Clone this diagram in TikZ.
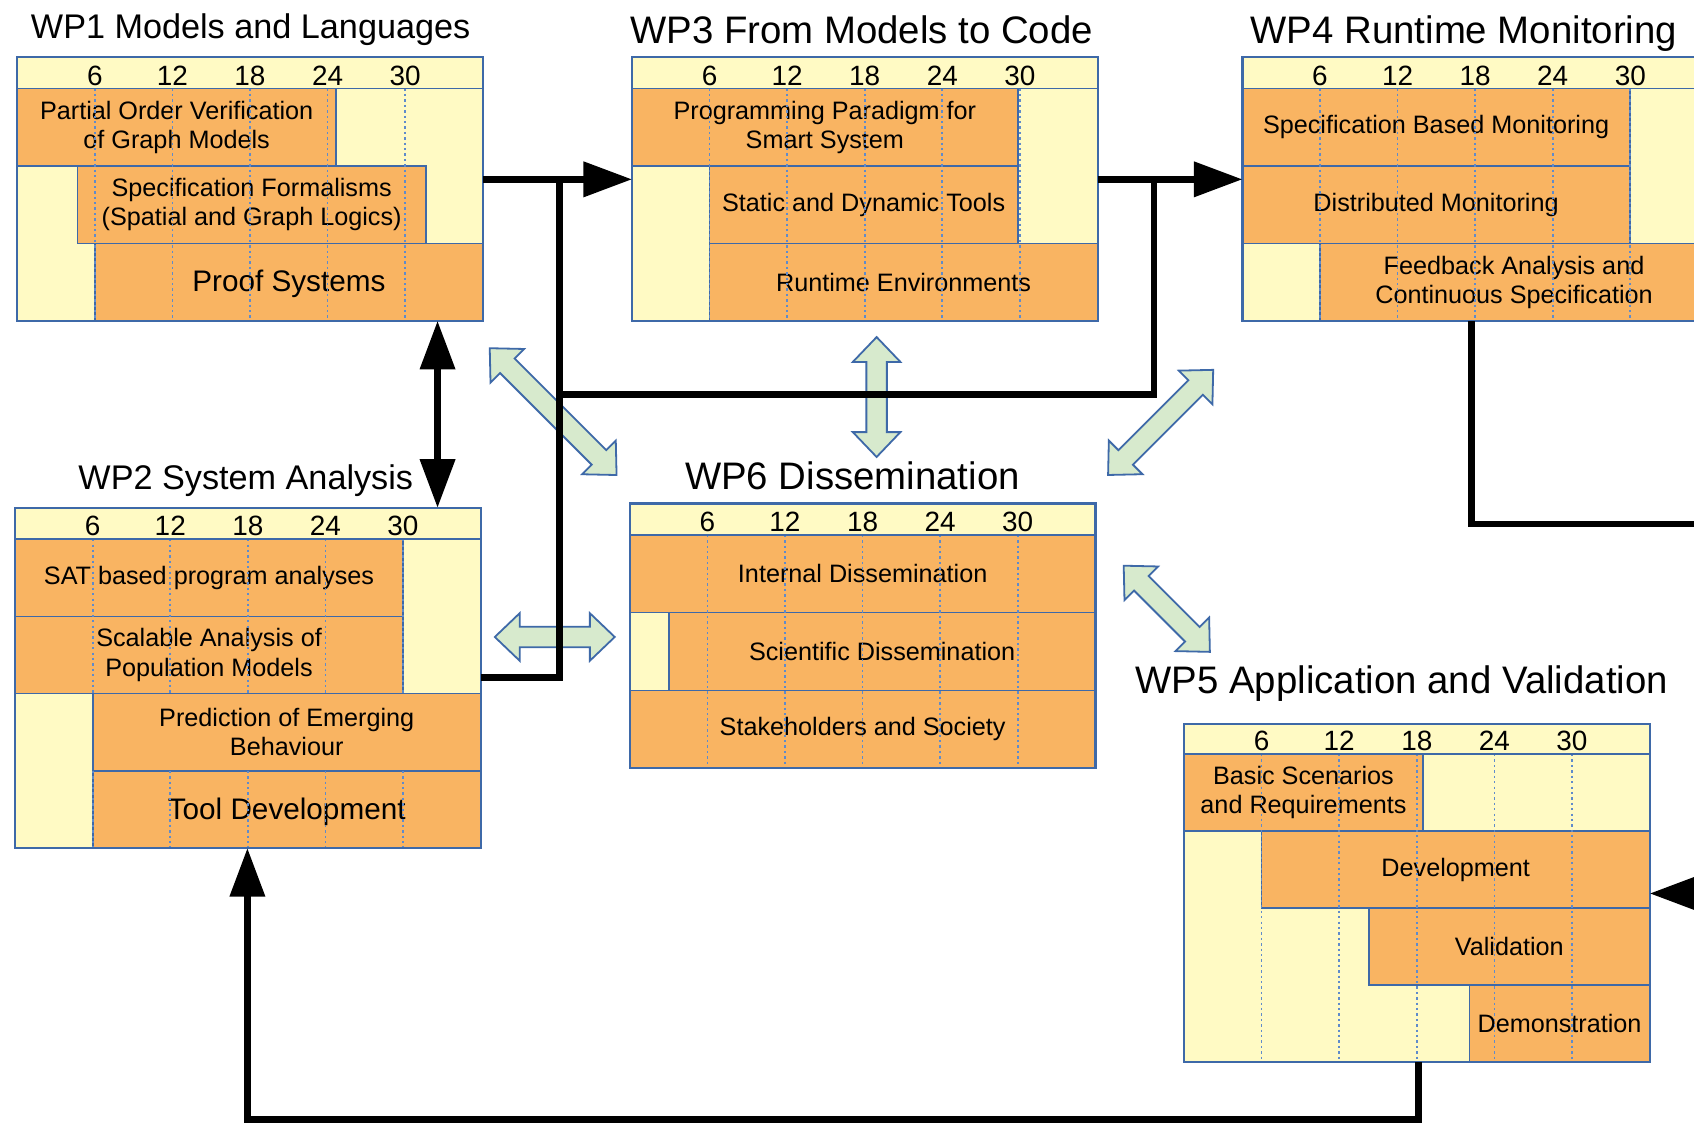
\documentclass[tikz,border=0pt]{standalone}
\usepackage{fontspec}
\setmainfont{Liberation Sans}
\usetikzlibrary{arrows.meta}
\definecolor{wpyellow}{HTML}{FFFAC4}
\definecolor{wporange}{HTML}{F9B462}
\definecolor{wpblue}{HTML}{3E69A8}
\definecolor{wpdot}{HTML}{5F8BCB}
\definecolor{wpgreen}{HTML}{D7EACD}
\newlength\un
\setlength\un{0.6pt}

\tikzset{
  wpbarst/.style={draw=wpblue, line width=0.9pt, fill=wporange, inner sep=0pt,
    outer sep=0pt, align=center, font=\fontsize{14}{16.2}\selectfont},
  wpframest/.style={draw=wpblue, line width=1.2pt, inner sep=0pt, outer sep=0pt},
  wptitle/.style={anchor=base, inner sep=0pt, font=\fontsize{21.3}{24}\selectfont},
  wptitlesmall/.style={wptitle, font=\fontsize{19}{22}\selectfont},
  wpmonth/.style={anchor=base, inner sep=0pt, font=\fontsize{15.5}{17}\selectfont},
  wpgridline/.style={draw=wpdot, line width=0.9pt, dash pattern=on 1.3pt off 1.7pt},
  wpflow/.style={line width=3.6pt, black},
  wpflowto/.style={wpflow, -{Triangle[length=27pt,width=19pt]}},
  wpflowboth/.style={wpflow, {Triangle[length=27pt,width=19pt]}-{Triangle[length=27pt,width=19pt]}},
  wpgarrow/.style={draw=wpblue, fill=wpgreen, line width=1pt, line join=miter},
  wpbig/.style={font=\fontsize{16.5}{18}\selectfont, yshift=-1.2pt}
}

% yellow background of a work package: x0, top, bottom
\newcommand\wpback[3]{\fill[wpyellow] (#1,#2) rectangle (#1+431,#3);}
% one task bar: [options] name, x0, y0, x1, y1, text
\newcommand\wpbar[7][]{%
  \node[wpbarst, minimum width={(#5-#3)*\un}, minimum height={(#6-#4)*\un}]
    (#2) at ({(#3+#5)/2},{(#4+#6)/2}) {};
  \node[inner sep=0pt, align=center, font=\fontsize{14}{16.2}\selectfont, #1]
    (#2txt) at (#2.center) {#7};}
% dotted month lines: x0, from y, to y
\newcommand\wpgrid[3]{\foreach \m in {1,...,5}{\draw[wpgridline] (#1+71.8*\m,#2) -- (#1+71.8*\m,#3);}}
% header line, month numbers and outline: name, x0, top, header bottom, bottom
\newcommand\wptop[5]{%
  \draw[wpblue, line width=1pt] (#2,#4) -- (#2+431,#4);
  \foreach \m/\n in {1/6,2/12,3/18,4/24,5/30}{\node[wpmonth] (#1m\n) at (#2+71.8*\m,#4-3) {\n};}
  \node[wpframest, minimum width={431*\un}, minimum height={(#5-#3)*\un}]
    (#1) at (#2+215.5,{(#3+#5)/2}) {};}
% light green double arrow: centre x, centre y, angle, half length
\newcommand\wpdouble[4]{%
  \begin{scope}[shift={(#1,#2)}, rotate=#3]
    \draw[wpgarrow] (-#4,0) -- (-#4+23,22) -- (-#4+23,9.5) -- (#4-23,9.5) -- (#4-23,22)
      -- (#4,0) -- (#4-23,-22) -- (#4-23,-9.5) -- (-#4+23,-9.5) -- (-#4+23,-22) -- cycle;
  \end{scope}}

\begin{document}
\begin{tikzpicture}[x=0.6pt,y=-0.6pt]
\useasboundingbox (0,0) rectangle (1568,1041);
\clip (0,0) rectangle (1568,1041);
\fill[white] (0,0) rectangle (1568,1041);

% ---------- WP1 ----------
\node[wptitlesmall] (wp1t) at (232,35.5) {WP1 Models and Languages};
\wpback{16}{53}{297}
\wpbar{wp1a}{16}{82}{311}{153.7}{Partial Order Verification\\of Graph Models}
\wpbar{wp1b}{71.6}{153.7}{394.3}{225.3}{Specification Formalisms\\(Spatial and Graph Logics)}
\wpbar[wpbig]{wp1c}{87.8}{225.3}{447}{297}{Proof Systems}
\wpgrid{16}{82}{297}
\wptop{wp1}{16}{53}{82}{297}

% ---------- WP3 ----------
\node[wptitle] (wp3t) at (797.5,40.5) {WP3 From Models to Code};
\wpback{585}{53}{297}
\wpbar{wp3a}{585}{82}{942}{153.7}{Programming Paradigm for\\Smart System}
\wpbar{wp3b}{656.8}{153.7}{942}{225.3}{Static and Dynamic Tools}
\wpbar{wp3c}{656.8}{225.3}{1016}{297}{Runtime Environments}
\wpgrid{585}{82}{297}
\wptop{wp3}{585}{53}{82}{297}

% ---------- WP4 ----------
\node[wptitle] (wp4t) at (1355,40.5) {WP4 Runtime Monitoring};
\wpback{1150}{53}{297}
\wpbar{wp4a}{1150}{82}{1508.5}{153.7}{Specification Based Monitoring}
\wpbar{wp4b}{1150}{153.7}{1508.5}{225.3}{Distributed Monitoring}
\wpbar{wp4c}{1221.8}{225.3}{1581}{297}{Feedback Analysis and\\Continuous Specification}
\wpgrid{1150}{82}{297}
\wptop{wp4}{1150}{53}{82}{297}

% ---------- WP2 ----------
\node[wptitlesmall] (wp2t) at (227.5,453.5) {WP2 System Analysis};
\wpback{14}{470}{785}
\wpbar{wp2a}{14}{499}{373}{570.5}{SAT based program analyses}
\wpbar{wp2b}{14}{570.5}{373}{642}{Scalable Analysis of\\Population Models}
\wpbar{wp2c}{85.8}{642}{445}{713.5}{Prediction of Emerging\\Behaviour}
\wpbar[wpbig]{wp2d}{85.8}{713.5}{445}{785}{Tool Development}
\wpgrid{14}{499}{642}
\wpgrid{14}{713.5}{785}
\wptop{wp2}{14}{470}{499}{785}

% ---------- WP6 ----------
\node[wptitle] (wp6t) at (789,453.5) {WP6 Dissemination};
\wpback{583}{466}{711}
\wpbar{wp6a}{583}{495}{1014}{567}{Internal Dissemination}
\wpbar{wp6b}{619}{567}{1014}{639}{Scientific Dissemination}
\wpbar{wp6c}{583}{639}{1014}{711}{Stakeholders and Society}
\wpgrid{583}{495}{711}
\wptop{wp6}{583}{466}{495}{711}

% ---------- WP5 ----------
\node[wptitle] (wp5t) at (1297.5,641.5) {WP5 Application and Validation};
\wpback{1096}{670}{983}
\wpbar{wp5a}{1096}{698}{1317}{769.25}{Basic Scenarios\\and Requirements}
\wpbar{wp5b}{1167.8}{769.25}{1527}{840.5}{Development}
\wpbar{wp5c}{1267}{840.5}{1527}{911.75}{Validation}
\wpbar{wp5d}{1360}{911.75}{1527}{983}{Demonstration}
\wpgrid{1096}{698}{983}
\wptop{wp5}{1096}{670}{698}{983}

% ---------- dissemination links ----------
\wpdouble{512}{381}{-45}{83}
\wpdouble{811.4}{367.5}{90}{55.5}
\wpdouble{1074.3}{391}{45}{68.8}
\wpdouble{1080}{563.5}{-45}{56.4}
\wpdouble{513.5}{589.6}{0}{55.5}

% ---------- result flow ----------
\coordinate (j1) at (518,166);
\coordinate (j2) at (1068,166);
\coordinate (j3) at (518,627);
\coordinate (j4) at (518,365);
\coordinate (j5) at (1068,365);
\coordinate (k1) at (405,380);
\coordinate (k2) at (1362,485);
\coordinate (k3) at (1600,485);
\coordinate (k4) at (1600,827);
\coordinate (k5) at (1313,1036);
\coordinate (k6) at (229,1036);

\draw[wpflowto] (wp1.east |- j1) -- (wp3.west |- j1);
\draw[wpflowto] (wp3.east |- j2) -- (wp4.west |- j2);
\draw[wpflow] (wp2.east |- j3) -- (j3) -- (j1);
\draw[wpflow] (j2) -- (j5) -- (j4);
\draw[wpflowboth] (wp1.south -| k1) -- (wp2.north -| k1);
\draw[wpflowto] (wp4.south -| k2) -- (k2) -- (k3) -- (k4) -- (wp5.east |- k4);
\draw[wpflowto] (wp5.south -| k5) -- (k5) -- (k6) -- (wp2.south -| k6);
\end{tikzpicture}
\end{document}
